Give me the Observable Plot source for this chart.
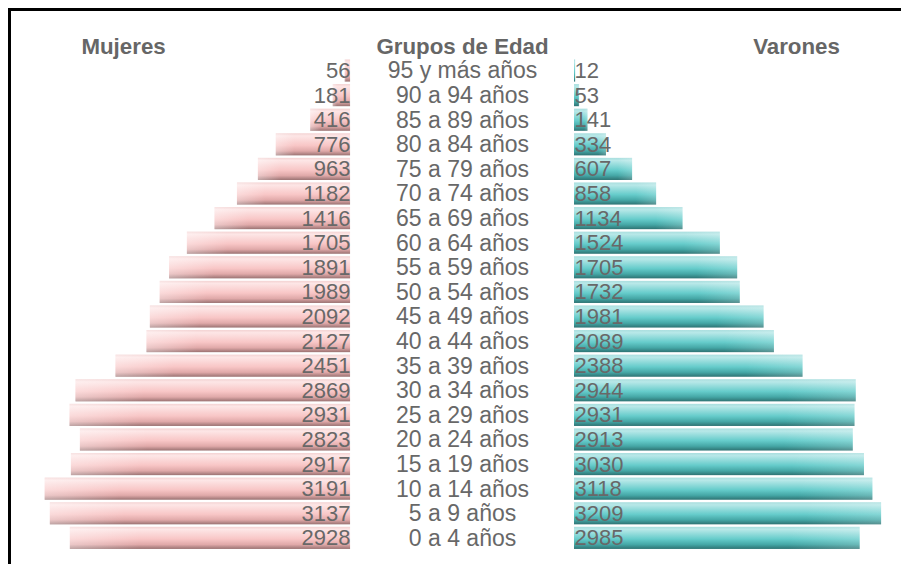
<!DOCTYPE html>
<html>
<head>
<meta charset="utf-8">
<script src="https://cdn.jsdelivr.net/npm/d3@7"></script>
<script src="https://cdn.jsdelivr.net/npm/@observablehq/plot@0.6"></script>
<style>
  html, body { margin: 0; padding: 0; background: #fff; }
  #wrap { position: relative; width: 901px; height: 564px; overflow: hidden; }
  #frame { position: absolute; left: 8px; top: 8px; right: -10px; bottom: -10px;
           border-top: 3px solid #000; border-left: 3px solid #000; pointer-events: none; }
</style>
</head>
<body>
<div id="wrap"><div id="frame"></div></div>
<script>
const ageGroups = ["95 y más años","90 a 94 años","85 a 89 años","80 a 84 años","75 a 79 años",
  "70 a 74 años","65 a 69 años","60 a 64 años","55 a 59 años","50 a 54 años","45 a 49 años",
  "40 a 44 años","35 a 39 años","30 a 34 años","25 a 29 años","20 a 24 años","15 a 19 años",
  "10 a 14 años","5 a 9 años","0 a 4 años"];
const mujeres = [56,181,416,776,963,1182,1416,1705,1891,1989,2092,2127,2451,2869,2931,2823,2917,3191,3137,2928];
const varones = [12,53,141,334,607,858,1134,1524,1705,1732,1981,2089,2388,2944,2931,2913,3030,3118,3209,2985];
const headers = ["Mujeres","Grupos de Edad","Varones"];

const G = 1170; // half-gap in data units holding the centre labels
const rows = ageGroups.map((g, i) => ({g, m: mujeres[i], v: varones[i]}));

const defs = () => {
  const d = d3.create("svg:defs");
  const mk = (id, stops) => {
    const lg = d.append("linearGradient").attr("id", id).attr("x1", 0).attr("y1", 0).attr("x2", 0).attr("y2", 1);
    stops.forEach(([o, c]) => lg.append("stop").attr("offset", o).attr("stop-color", c));
  };
  mk("gPink", [[0, "#f3d2d2"], [0.12, "#fde6e6"], [0.55, "#f8c6c6"], [0.8, "#e0a9a9"], [1, "#9a7272"]]);
  mk("gTeal", [[0, "#a9dede"], [0.12, "#b8e8e8"], [0.55, "#66cccb"], [0.8, "#45a7a6"], [1, "#2e7373"]]);
  const h1 = d.append("linearGradient").attr("id", "hPink").attr("x1", 0).attr("x2", 1).attr("y1", 0).attr("y2", 0);
  h1.append("stop").attr("offset", 0).attr("stop-color", "#fff").attr("stop-opacity", 0.35);
  h1.append("stop").attr("offset", 0.25).attr("stop-color", "#fff").attr("stop-opacity", 0);
  const h2 = d.append("linearGradient").attr("id", "hTeal").attr("x1", 0).attr("x2", 1).attr("y1", 0).attr("y2", 0);
  h2.append("stop").attr("offset", 0.75).attr("stop-color", "#fff").attr("stop-opacity", 0);
  h2.append("stop").attr("offset", 1).attr("stop-color", "#fff").attr("stop-opacity", 0.2);
  return d.node();
};

const font = "'Liberation Sans', Arial, sans-serif";

const chart = Plot.plot({
  width: 901,
  height: 564,
  marginLeft: 0,
  marginRight: 0,
  marginTop: 57,
  marginBottom: 12.6,
  style: {fontFamily: font, background: "transparent"},
  x: {domain: [-4828, 4587], range: [0, 901], axis: null},
  y: {domain: ageGroups, padding: 0.1, round: false, axis: null},
  marks: [
    defs,
    Plot.barX(rows, {y: "g", x1: -G, x2: d => -G - d.m, fill: "url(#gPink)"}),
    Plot.barX(rows, {y: "g", x1: -G, x2: d => -G - d.m, fill: "url(#hPink)"}),
    Plot.barX(rows, {y: "g", x1: G, x2: d => G + d.v, fill: "url(#gTeal)"}),
    Plot.barX(rows, {y: "g", x1: G, x2: d => G + d.v, fill: "url(#hTeal)"}),
    Plot.text(rows, {y: "g", x: -G, text: d => String(d.m), textAnchor: "end", dx: 0, dy: 0,
      fontSize: 22, fill: "#686868"}),
    Plot.text(rows, {y: "g", x: G, text: d => String(d.v), textAnchor: "start", dx: 0, dy: 0,
      fontSize: 22, fill: "#686868"}),
    Plot.text(rows, {y: "g", x: 0, text: "g", textAnchor: "middle", fontSize: 23, fill: "#686868"}),
    Plot.text(headers, {x: [-3542, 0, 3490], frameAnchor: "top", lineAnchor: "middle", dy: -11,
      text: d => d, fontSize: 22.3, fontWeight: "bold", fill: "#666666"})
  ]
});
document.getElementById("wrap").prepend(chart);
chart.style.position = "absolute";
chart.style.left = "0";
chart.style.top = "0";
</script>
</body>
</html>
